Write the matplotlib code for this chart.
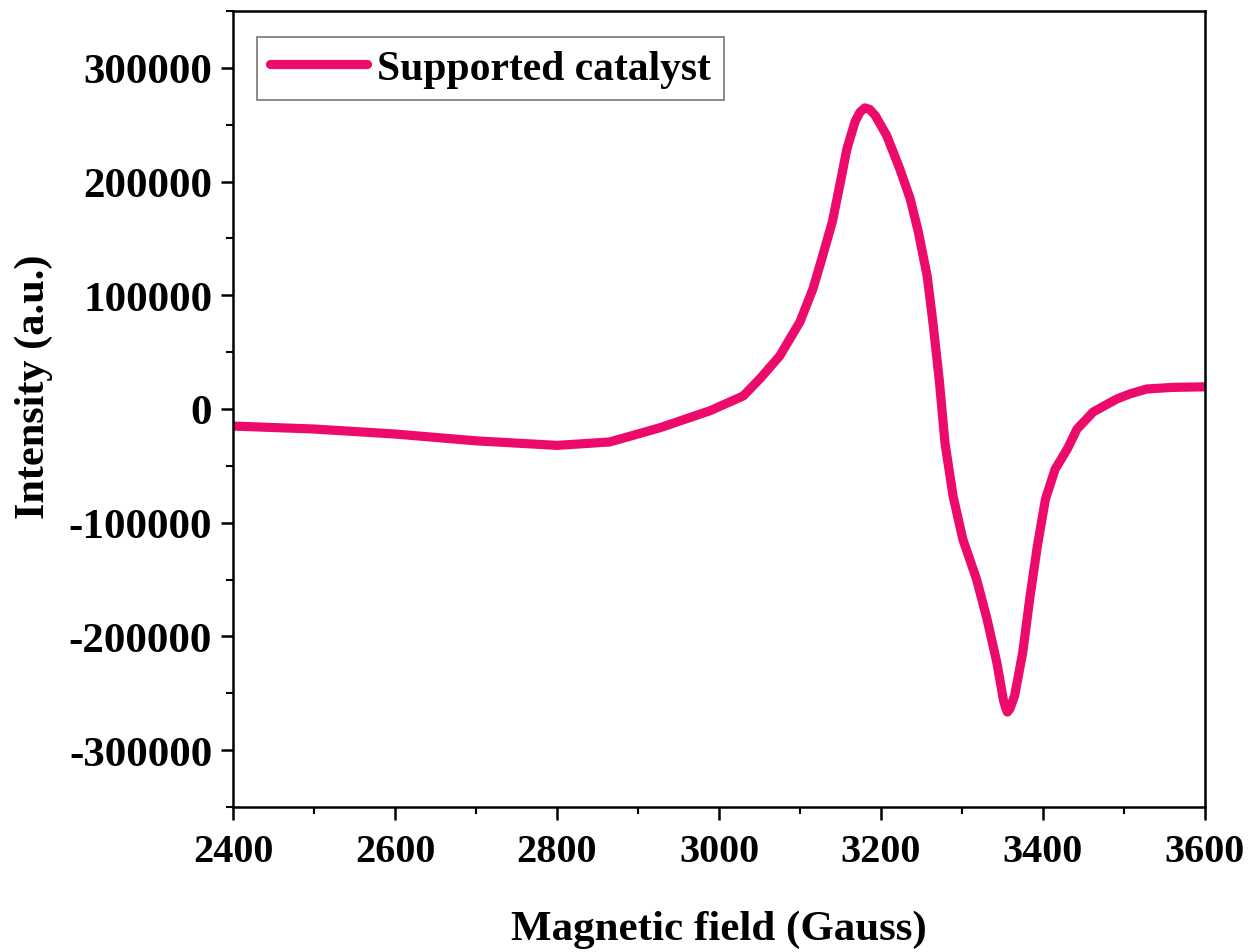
import matplotlib

matplotlib.use("Agg")
import matplotlib.pyplot as plt
from matplotlib.ticker import MultipleLocator


# EPR spectrum
field = [2400, 2500, 2600, 2700, 2800, 2865, 2927, 2989, 3030, 3051, 3075,
         3100, 3116, 3128, 3140, 3150, 3158, 3168, 3174, 3180, 3186, 3193,
         3207, 3223, 3236, 3246, 3257, 3264, 3272, 3279, 3289, 3301, 3318,
         3331, 3343, 3351, 3354, 3356, 3359, 3365, 3375, 3384, 3393, 3403,
         3415, 3430, 3442, 3462, 3491, 3507, 3528, 3560, 3600]
intensity = [-15000, -17600, -22000, -28000, -32000, -29000, -16500, -1500,
             11500, 27000, 46700, 76700, 105700, 134800, 164800, 200000,
             229000, 252800, 261000, 264800, 263500, 258000, 240500, 211500,
             185000, 156000, 117000, 76700, 25000, -30000, -76700, -114500,
             -149800, -185000, -222900, -255500, -263000, -266500, -264000,
             -252000, -214000, -164800, -120700, -79300, -52900, -35200,
             -17600, -2600, 8800, 13200, 17600, 19000, 19500]

x_ticks = [2400, 2600, 2800, 3000, 3200, 3400, 3600]
y_ticks = [-300000, -200000, -100000, 0, 100000, 200000, 300000]

LINE_COLOR = "#EC0B6B"


def main() -> None:
    plt.rcParams["font.family"] = "Liberation Serif"
    plt.rcParams["font.weight"] = "bold"
    plt.rcParams["axes.unicode_minus"] = False

    fig = plt.figure(figsize=(12.53, 9.53), dpi=100)
    ax = fig.add_axes([233 / 1253, 1 - 808 / 953, (1205 - 233) / 1253, (808 - 12) / 953])

    ax.plot(field, intensity, color=LINE_COLOR, lw=6.6, solid_capstyle="round",
            solid_joinstyle="round", label="Supported catalyst")

    ax.set_xlim(2400, 3600)
    ax.set_ylim(-350000, 350000)
    ax.set_xticks(x_ticks)
    ax.set_yticks(y_ticks)
    ax.xaxis.set_minor_locator(MultipleLocator(100))
    ax.yaxis.set_minor_locator(MultipleLocator(50000))
    ax.tick_params(which="major", direction="out", length=9, width=1.8, pad=8)
    ax.tick_params(which="minor", direction="out", length=5, width=1.5)
    ax.tick_params(axis="y", labelsize=31, pad=6)
    ax.tick_params(axis="x", labelsize=29, pad=10)
    for lbl in ax.get_xticklabels() + ax.get_yticklabels():
        lbl.set_fontweight("bold")
    for sp in ax.spines.values():
        sp.set_linewidth(1.8)

    ax.set_xlabel("Magnetic field (Gauss)", fontsize=31, fontweight="bold", labelpad=28)
    ax.set_ylabel("Intensity (a.u.)", fontsize=30.5, fontweight="bold")
    ax.yaxis.set_label_coords(-0.185, 0.529)

    leg = ax.legend(loc="upper left", bbox_to_anchor=(0.0247, 0.967), fontsize=30,
                    frameon=True, fancybox=False, handlelength=2.35, handletextpad=0.24,
                    borderpad=0.3, borderaxespad=0)
    leg.get_frame().set_edgecolor("#555555")
    leg.get_frame().set_linewidth(1.2)
    for t in leg.get_texts():
        t.set_fontweight("bold")

    fig.savefig("out.png", dpi=100)
    plt.close(fig)


if __name__ == "__main__":
    main()
